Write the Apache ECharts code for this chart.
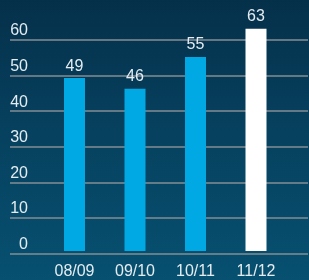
<!DOCTYPE html>
<html>
<head>
<meta charset="utf-8">
<script src="https://cdn.jsdelivr.net/npm/echarts@6/dist/echarts.min.js"></script>
<style>
  html, body { margin: 0; padding: 0; }
  #chart {
    width: 309px;
    height: 280px;
    background: linear-gradient(to bottom, #05304a 0%, #064260 50%, #075070 100%);
  }
</style>
</head>
<body>
<div id="chart"></div>
<script>
// seasons and values
const seasons = ['08/09', '09/10', '10/11', '11/12']
const values = [49, 46, 55, 63]
const barColors = ['#00a8e4', '#00a8e4', '#00a8e4', '#ffffff']

const textColor = '#e4ecf1'
const lineColor = '#858e95'

const chart = echarts.init(document.getElementById('chart'))

const option = {
  backgroundColor: 'transparent',
  animation: false,
  grid: [
    // gridlines + y labels, full width
    { left: 10, right: 1, top: 40, bottom: 26.3 },
    // bars
    { left: 44.25, right: 22.75, top: 4, bottom: 26.3 }
  ],
  xAxis: [
    {
      gridIndex: 0,
      type: 'value',
      show: false
    },
    {
      gridIndex: 1,
      type: 'category',
      data: seasons,
      axisLine: { show: false },
      axisTick: { show: false },
      axisLabel: {
        color: textColor,
        fontFamily: 'Liberation Sans',
        fontSize: 16,
        margin: 13
      }
    }
  ],
  yAxis: [
    {
      gridIndex: 0,
      type: 'value',
      min: 0,
      max: 60,
      interval: 10,
      axisLine: { show: false },
      axisTick: { show: false },
      axisLabel: {
        inside: true,
        align: 'right',
        margin: 18,
        verticalAlign: 'bottom',
        padding: [0, 0, 1, 0],
        color: textColor,
        fontFamily: 'Liberation Sans',
        fontSize: 16
      },
      splitLine: {
        lineStyle: { color: lineColor, width: 1.5 }
      }
    },
    {
      gridIndex: 1,
      type: 'value',
      min: 0,
      max: 70,
      show: false
    }
  ],
  series: [
    {
      type: 'bar',
      xAxisIndex: 1,
      yAxisIndex: 1,
      barWidth: 21,
      data: values.map((v, i) => ({
        value: v,
        itemStyle: { color: barColors[i] }
      })),
      label: {
        show: true,
        position: 'top',
        distance: 4,
        color: textColor,
        fontFamily: 'Liberation Sans',
        fontSize: 16
      }
    }
  ]
}

chart.setOption(option)
</script>
</body>
</html>
